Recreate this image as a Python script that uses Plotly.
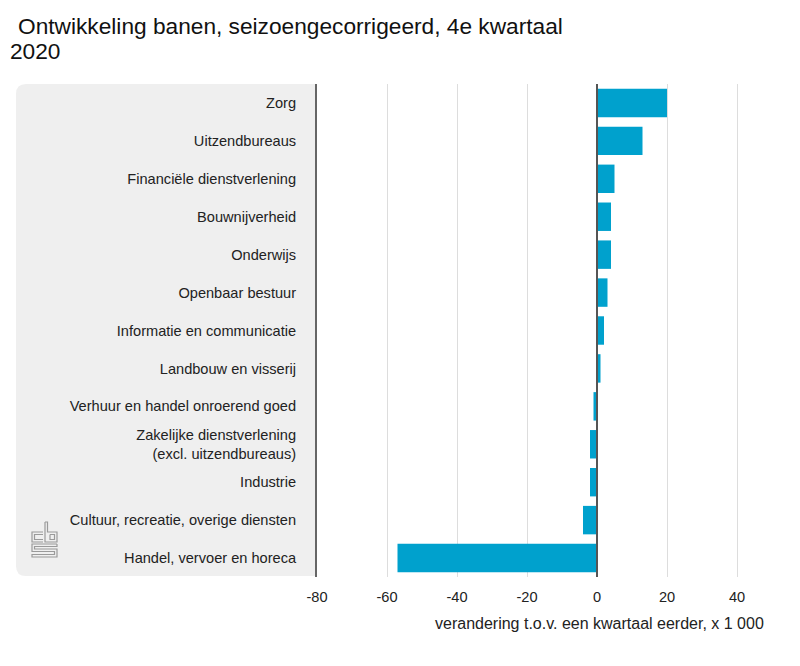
import plotly.graph_objects as go

# Ontwikkeling banen per bedrijfstak, x 1 000
sectoren = [
    "Zorg",
    "Uitzendbureaus",
    "Financiële dienstverlening",
    "Bouwnijverheid",
    "Onderwijs",
    "Openbaar bestuur",
    "Informatie en communicatie",
    "Landbouw en visserij",
    "Verhuur en handel onroerend goed",
    "Zakelijke dienstverlening<br>(excl. uitzendbureaus)",
    "Industrie",
    "Cultuur, recreatie, overige diensten",
    "Handel, vervoer en horeca",
]
verandering = [20, 13, 5, 4, 4, 3, 2, 1, -1, -2, -2, -4, -57]
x_ticks = [-80, -60, -40, -20, 0, 20, 40]
x_labels = ["-80", "-60", "-40", "-20", "0", "20", "40"]

# pagina heeft 8px body-marge; maten hieronder in schermpixels
O = 8
W, H = 800, 666
L, T = 317 - O, 84 - O
R, B = W - (765 - O), H - (577 - O)
pw, ph = W - L - R, H - T - B


def px(x):
    return (x - O - L) / pw


def py(y):
    return 1 - (y - O - T) / ph


fig = go.Figure()
fig.add_trace(go.Bar(
    x=verandering,
    y=sectoren,
    orientation="h",
    marker=dict(color="#00a1cd", line=dict(width=0)),
    width=0.75,
    hoverinfo="x+y",
))

# grijs vlak achter de labels (links afgerond)
x0, x1, y0, y1, r = px(16), px(317), py(84), py(576), 10
rx, ry = r / pw, r / ph
fig.add_shape(
    type="path", xref="paper", yref="paper", layer="below",
    path=(f"M {x1},{y0} L {x0 + rx},{y0} Q {x0},{y0} {x0},{y0 - ry} "
          f"L {x0},{y1 + ry} Q {x0},{y1} {x0 + rx},{y1} L {x1},{y1} Z"),
    fillcolor="#efefef", line=dict(width=0),
)

# nullijn boven de balken
fig.add_shape(type="line", xref="x", yref="paper", x0=0, x1=0, y0=0, y1=1,
              line=dict(color="#555555", width=2), layer="above")

# cbs-logo, eenvoudig nagetekend
lx, ly = 32, 522
logo = [
    # c
    [(11, 10), (0, 10), (0, 20), (11, 20)],
    [(11, 12.5), (2.5, 12.5), (2.5, 17.5), (11, 17.5)],
    # b
    [(13, 0), (13, 20), (25, 20), (25, 10), (15.5, 10), (15.5, 0), (13, 0)],
    [(18, 12.5), (22.5, 12.5), (22.5, 17.5), (18, 17.5), (18, 12.5)],
    # s
    [(25, 22), (0, 22), (0, 29.5), (22.5, 29.5), (22.5, 32.5), (0, 32.5), (0, 35), (25, 35), (25, 27), (2.5, 27), (2.5, 24.5), (25, 24.5), (25, 22)],
]
for pts in logo:
    path = "M " + " L ".join(f"{px(lx + a)},{py(ly + b)}" for a, b in pts)
    fig.add_shape(type="path", xref="paper", yref="paper", path=path,
                  fillcolor="rgba(0,0,0,0)", line=dict(color="#9a9a9a", width=1.2))

# titel in twee regels
fig.add_annotation(
    text="Ontwikkeling banen, seizoengecorrigeerd, 4e kwartaal",
    xref="paper", yref="paper", x=px(16), y=py(26),
    xanchor="left", yanchor="middle", showarrow=False,
    font=dict(size=22.7, color="#111111"),
)
fig.add_annotation(
    text="2020",
    xref="paper", yref="paper", x=px(O), y=py(51),
    xanchor="left", yanchor="middle", showarrow=False,
    font=dict(size=22.7, color="#111111"),
)
fig.add_annotation(
    text="verandering t.o.v. een kwartaal eerder, x 1 000",
    xref="paper", yref="paper", x=px(766), y=py(623),
    xanchor="right", yanchor="middle", showarrow=False,
    font=dict(size=16, color="#222222"),
)

fig.update_layout(
    width=W, height=H,
    margin=dict(l=L, r=R, t=T, b=B),
    paper_bgcolor="white", plot_bgcolor="white",
    font=dict(family="Liberation Sans, Arial, sans-serif", size=14.6, color="#222222"),
    showlegend=False,
    bargap=0.25,
    xaxis=dict(
        range=[-80, 48], tickvals=x_ticks, ticktext=x_labels, ticks="outside",
        ticklen=6, tickcolor="rgba(0,0,0,0)", showgrid=True, gridcolor="#dddddd",
        gridwidth=1, zeroline=False, showline=False, fixedrange=True,
    ),
    yaxis=dict(
        autorange="reversed", ticks="outside", ticklen=16,
        tickcolor="rgba(0,0,0,0)", showgrid=False, zeroline=False,
        showline=True, linecolor="#666666", linewidth=2, fixedrange=True,
    ),
)

fig.write_html("out.html")
